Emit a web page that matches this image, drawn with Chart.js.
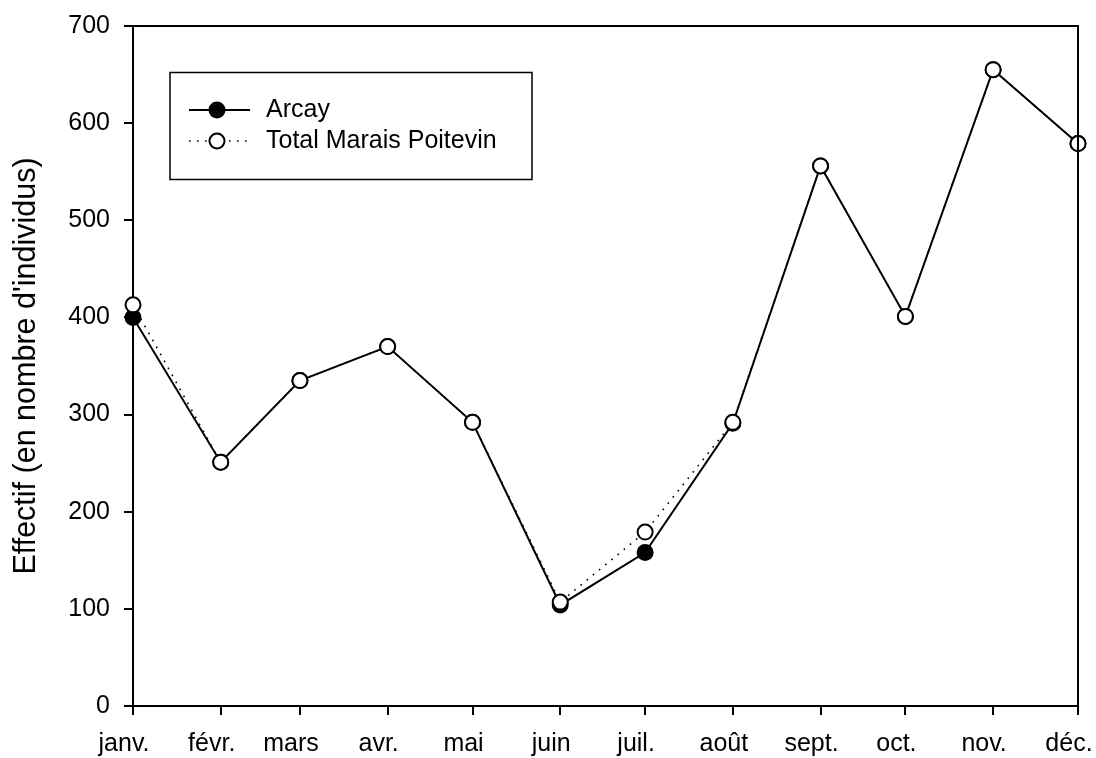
<!DOCTYPE html>
<html>
<head>
<meta charset="utf-8">
<script src="https://cdn.jsdelivr.net/npm/chart.js@4/dist/chart.umd.min.js"></script>
<style>
  html, body { margin: 0; padding: 0; background: #fff; }
  #wrap { width: 1096px; height: 758px; }
</style>
</head>
<body>
<div id="wrap"><canvas id="c" width="1096" height="758"></canvas></div>
<script>
// Month labels and the day of year on which each month starts (date axis)
const monthLabels = ['janv.', 'févr.', 'mars', 'avr.', 'mai', 'juin', 'juil.', 'août', 'sept.', 'oct.', 'nov.', 'déc.'];
const monthStartDay = [0, 31, 59, 90, 120, 151, 181, 212, 243, 273, 304, 334];
const arcayValues = [400, 251, 335, 370, 292, 104, 158, 291, 556, 401, 655, 579];
const totalValues = [413, 251, 335, 370, 292, 107, 179, 292, 556, 401, 655, 579];
const yTicks = [0, 100, 200, 300, 400, 500, 600, 700];
const seriesNames = ['Arcay', 'Total Marais Poitevin'];

const FONT = "'Liberation Sans', Arial, sans-serif";

const framePlugin = {
  id: 'frame',
  afterDatasetsDraw(chart) {
    const { ctx, chartArea: a } = chart;
    ctx.save();
    ctx.strokeStyle = '#000';
    ctx.lineWidth = 2;
    ctx.beginPath();
    ctx.moveTo(a.left, a.top);
    ctx.lineTo(a.right, a.top);
    ctx.lineTo(a.right, a.bottom);
    ctx.stroke();
    ctx.restore();
  },
  afterDraw(chart) {
    const { ctx } = chart;
    const ds = chart.data.datasets;
    ctx.save();
    // legend box
    ctx.strokeStyle = '#000';
    ctx.lineWidth = 1.5;
    ctx.strokeRect(170, 72.5, 362, 107);
    const rows = [110, 141];
    ds.forEach((d, i) => {
      const y = rows[i];
      ctx.strokeStyle = '#000';
      ctx.lineWidth = d.borderWidth;
      ctx.setLineDash(d.borderDash || []);
      ctx.beginPath();
      ctx.moveTo(189, y);
      ctx.lineTo(250, y);
      ctx.stroke();
      ctx.setLineDash([]);
      ctx.lineWidth = 2;
      ctx.fillStyle = d.pointBackgroundColor;
      ctx.beginPath();
      ctx.arc(217, y, 7.5, 0, Math.PI * 2);
      ctx.fill();
      ctx.stroke();
      ctx.fillStyle = '#000';
      ctx.font = '25px ' + FONT;
      ctx.textBaseline = 'middle';
      ctx.textAlign = 'left';
      ctx.fillText(d.label, 266, y);
    });
    ctx.restore();
  }
};

new Chart(document.getElementById('c'), {
  type: 'line',
  data: {
    datasets: [
      {
        label: seriesNames[0],
        data: monthStartDay.map((d, i) => ({ x: d, y: arcayValues[i] })),
        borderColor: '#000',
        borderWidth: 2,
        pointRadius: 7.5,
        pointBorderWidth: 2,
        pointBorderColor: '#000',
        pointBackgroundColor: '#000',
        tension: 0,
        clip: false,
        order: 2
      },
      {
        label: seriesNames[1],
        data: monthStartDay.map((d, i) => ({ x: d, y: totalValues[i] })),
        borderColor: '#000',
        borderWidth: 1.6,
        borderDash: [1.6, 6.4],
        pointRadius: 7.5,
        pointBorderWidth: 2,
        pointBorderColor: '#000',
        pointBackgroundColor: '#fff',
        tension: 0,
        clip: false,
        order: 1
      }
    ]
  },
  options: {
    responsive: false,
    animation: false,
    events: [],
    layout: { padding: { left: 0, top: 26, right: 18, bottom: 0 } },
    plugins: { legend: { display: false }, tooltip: { enabled: false } },
    scales: {
      x: {
        type: 'linear',
        min: monthStartDay[0],
        max: monthStartDay[monthStartDay.length - 1],
        afterBuildTicks: (scale) => { scale.ticks = monthStartDay.map(v => ({ value: v })); },
        afterFit: (scale) => { scale.height = 52; scale.paddingLeft = 0; scale.paddingRight = 0; },
        ticks: {
          autoSkip: false,
          maxRotation: 0,
          minRotation: 0,
          padding: 14,
          labelOffset: -9,
          color: '#000',
          font: { family: FONT, size: 25 },
          callback: (v) => monthLabels[monthStartDay.indexOf(v)]
        },
        grid: { drawOnChartArea: false, drawTicks: true, tickLength: 9, color: '#000', lineWidth: 2 },
        border: { display: true, color: '#000', width: 2 }
      },
      y: {
        min: yTicks[0],
        max: yTicks[yTicks.length - 1],
        afterBuildTicks: (scale) => { scale.ticks = yTicks.map(v => ({ value: v })); },
        afterFit: (scale) => { scale.width = 133; scale.paddingTop = 0; scale.paddingBottom = 0; },
        ticks: {
          padding: 14,
          color: '#000',
          font: { family: FONT, size: 25 }
        },
        grid: { drawOnChartArea: false, drawTicks: true, tickLength: 9, color: '#000', lineWidth: 2 },
        border: { display: true, color: '#000', width: 2 },
        title: {
          display: true,
          text: "Effectif (en nombre d'individus)",
          color: '#000',
          font: { family: FONT, size: 30.5 },
          padding: { top: 8, bottom: 0 }
        }
      }
    }
  },
  plugins: [framePlugin]
});
</script>
</body>
</html>
